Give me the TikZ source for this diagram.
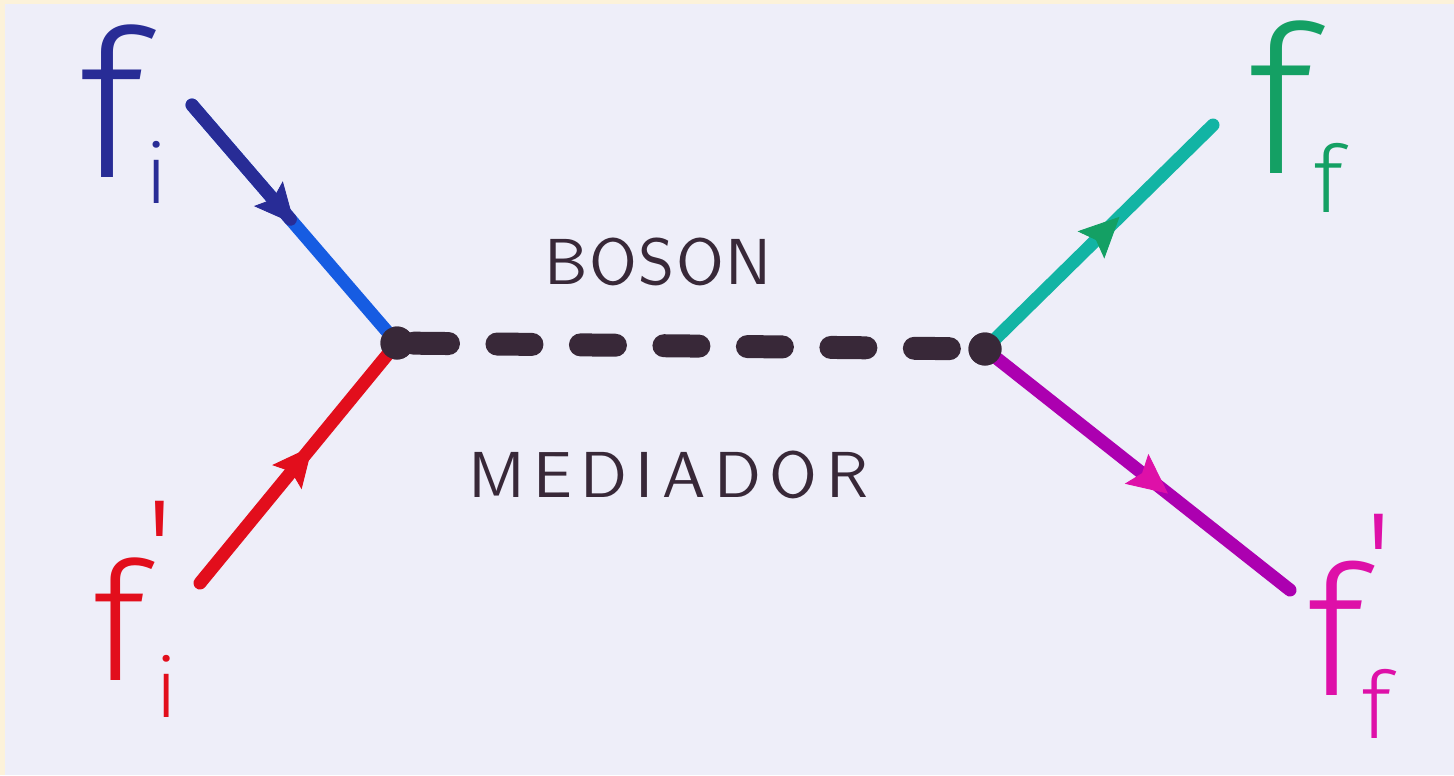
\documentclass[tikz,border=0pt]{standalone}
\usepackage{fontspec}
\usetikzlibrary{arrows.meta,decorations.markings,calc}

\newfontfamily\hand{Fira Sans Light}
\newfontfamily\wordfont{lmsans10-regular.otf}[LetterSpace=13]

\definecolor{paper}{RGB}{238,238,249}
\definecolor{edge}{RGB}{252,242,218}
\definecolor{navy}{RGB}{40,44,150}
\definecolor{fblue}{RGB}{22,92,226}
\definecolor{fred}{RGB}{226,14,28}
\definecolor{fteal}{RGB}{18,180,164}
\definecolor{fgreen}{RGB}{20,160,100}
\definecolor{fpurple}{RGB}{172,0,176}
\definecolor{fpink}{RGB}{222,16,168}
\definecolor{ink}{RGB}{56,40,56}

% f with a subscript: size, sub size, sub letter, drop, kern
\newcommand\flab[5]{\fontsize{#1}{#1}\selectfont f\kern#5\raisebox{-#4}{\fontsize{#2}{#2}\selectfont #3}}
% same with a prime above: last arg is the raise of the prime
\newcommand\fplab[6]{\fontsize{#1}{#1}\selectfont f\rlap{\raisebox{#6}{\fontsize{80}{80}\selectfont\textquotesingle}}\kern#5\raisebox{-#4}{\fontsize{#2}{#2}\selectfont #3}}

\tikzset{
  fermion/.style={line width=0.26cm, line cap=round},
  midarrow/.style 2 args={postaction={decorate}, decoration={markings,
    mark=at position #1 with {\arrow{Stealth[length=0.8cm,width=0.76cm,inset=0.14cm,line width=0.5pt,color=#2]}}}},
  boson/.style={line width=0.46cm, line cap=round, ink, dash=on 0.7cm off 0.97cm phase 1.34cm},
  vertex/.style={circle, fill=ink, minimum size=0.66cm, inner sep=0},
  lab/.style={inner sep=0, anchor=base west, font=\hand},
  word/.style={inner sep=0, text=ink, font=\wordfont\fontsize{37}{37}\selectfont}
}

\begin{document}
\begin{tikzpicture}[x=0.02cm, y=-0.02cm]
\useasboundingbox (0,0) rectangle (1454,775);
\fill[edge] (0,0) rectangle (1454,775);
\fill[paper] (5,4) rectangle (1454,775);

\coordinate (bi) at (192,105);
\coordinate (ri) at (200,583);
\coordinate (tf) at (1213,125);
\coordinate (pf) at (1290,590);
\node[vertex] (vl) at (397,343) {};
\node[vertex] (vr) at (985,349) {};

% incoming fermions
\draw[fermion, fblue] (bi) -- (vl.center);
\draw[fermion, navy] (bi) -- ($(bi)!0.48!(vl.center)$);
\path[midarrow={0.5}{navy}] (bi) -- (vl.center);
\draw[fermion, fred, midarrow={0.57}{fred}] (ri) -- (vl.center);

% outgoing fermions
\draw[fermion, fteal, midarrow={0.59}{fgreen}] (vr.center) -- (tf);
\draw[fermion, fpurple, midarrow={0.6}{fpink}] (vr.center) -- (pf);

% the mediator
\draw[boson] (vl.center) -- (vr.center);
\node[vertex] at (vl) {};
\node[vertex] at (vr) {};

\node[word, font=\wordfont\addfontfeature{LetterSpace=2}\fontsize{37}{37}\selectfont] (boson) at (658,262) {BOSON};
\node[word] (mediador) at (668,475) {MEDIADOR};

\node[lab, text=navy] (fi) at (78,177) {\flab{117}{47}{i}{0.52cm}{0.02cm}};
\node[lab, text=fred] (fpi) at (92,680) {\fplab{94}{47}{i}{0.74cm}{0.2cm}{1.66cm}};
\node[lab, text=fgreen] (ff) at (1247,173) {\flab{117}{53}{f}{0.8cm}{0cm}};
\node[lab, text=fpink] (fpf) at (1306,695) {\fplab{103}{53}{f}{0.86cm}{-0.05cm}{1.7cm}};
\end{tikzpicture}
\end{document}
